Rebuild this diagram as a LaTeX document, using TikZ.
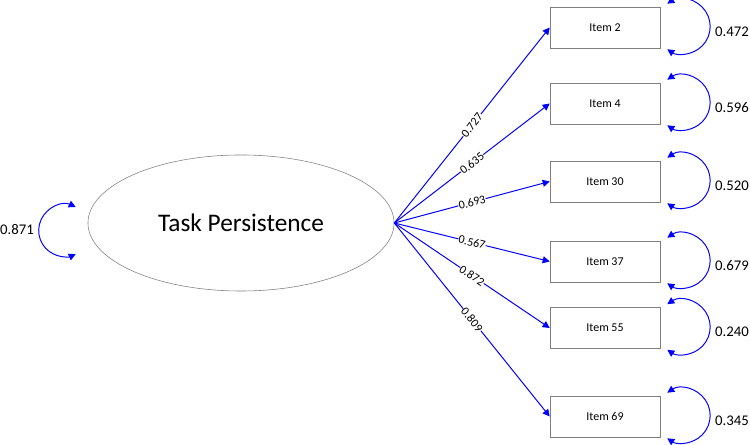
\documentclass[tikz,border=0pt]{standalone}
\usepackage{fontspec}
\setmainfont{Carlito}
\usetikzlibrary{arrows.meta,shapes.geometric}

\tikzset{
    latent/.style={ellipse, draw=gray, minimum width=7.65cm, minimum height=3.4cm, inner sep=0pt, font=\fontsize{18}{21}\selectfont},
    item/.style={draw=gray, minimum width=2.75cm, minimum height=1.025cm, inner sep=0pt, font=\fontsize{8.5}{10}\selectfont},
    loading/.style={blue, line width=0.7pt, -{Triangle[length=5pt,width=5pt]}},
    errvar/.style={blue, line width=0.7pt, {Triangle[length=5pt,width=5pt]}-{Triangle[length=5pt,width=5pt]}},
    coef/.style={font=\fontsize{8.5}{10}\selectfont, text=black, fill=white, inner sep=0.3pt, sloped, midway},
    resid/.style={font=\fontsize{10.5}{12}\selectfont, inner sep=0pt}
}

\begin{document}
\begin{tikzpicture}[x=0.025cm, y=0.025cm]
    \useasboundingbox (0,0) rectangle (750,445);
    \node[latent] (tp) at (241,222) {Task Persistence};
    \draw[errvar] ([shift={(-12,16)}]tp.west) arc[start angle=65, end angle=295, radius=26];
    \node[resid] (r0) at (17,215) {0.871};
    \foreach \n/\y/\l/\r in {2/417.5/0.727/0.472, 4/341.5/0.635/0.596, 30/263.5/0.693/0.520,
                             37/183.5/0.567/0.679, 55/117/0.872/0.240, 69/28.5/0.809/0.345}
    {
        \node[item] (i\n) at (605,\y) {Item \n};
        \draw[loading] (tp.east) -- node[coef] {\l} (i\n.west);
        \draw[errvar] ([shift={(7,3)}]i\n.north east) arc[start angle=124, end angle=-124, radius=27.5];
        \node[resid] (r\n) at (732,\y-4) {\r};
    }
\end{tikzpicture}
\end{document}
